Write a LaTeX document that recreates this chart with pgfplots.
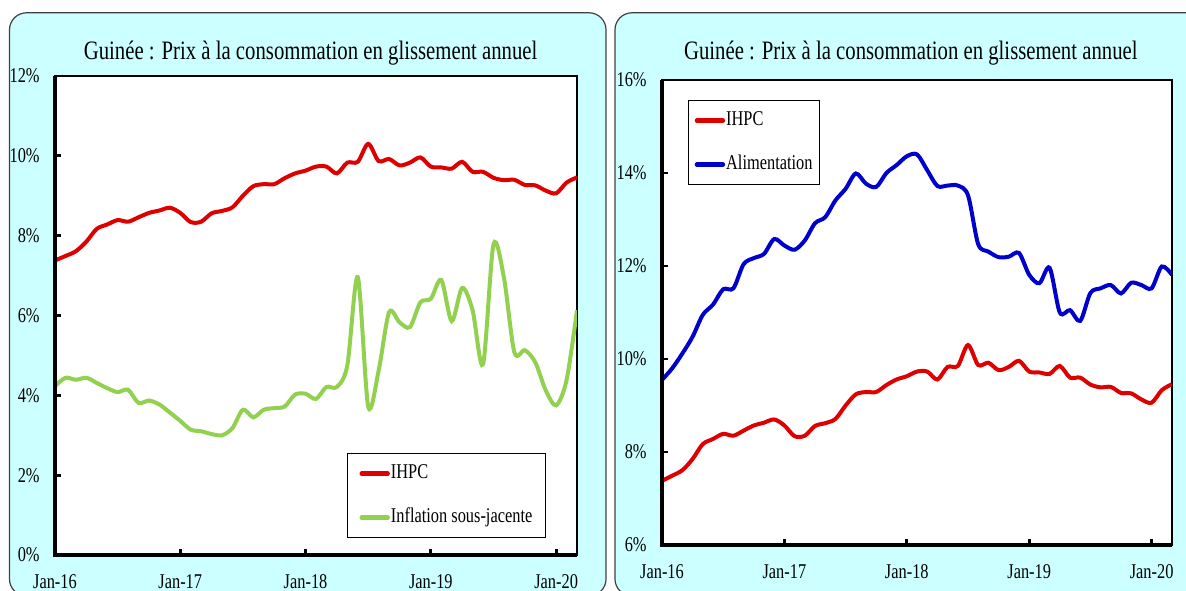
\documentclass[border=0pt]{standalone}
\usepackage{fontspec}
\setmainfont{Liberation Serif}[FakeStretch=0.78]
\usepackage{pgfplots}
\pgfplotsset{compat=1.18}
\usepackage{pgfplotstable}
\definecolor{panelbg}{RGB}{204,255,255}
\definecolor{ihpc}{RGB}{222,0,0}
\definecolor{sousj}{RGB}{146,208,80}
\definecolor{alim}{RGB}{0,0,204}

\pgfplotstableread{
m ihpc sj alim
0 7.38 4.23 9.55
1 7.49 4.44 9.80
2 7.61 4.39 10.12
3 7.85 4.44 10.48
4 8.17 4.31 10.95
5 8.28 4.18 11.17
6 8.39 4.08 11.50
7 8.35 4.14 11.52
8 8.46 3.81 12.04
9 8.57 3.87 12.17
10 8.63 3.77 12.26
11 8.70 3.57 12.58
12 8.57 3.36 12.44
13 8.34 3.14 12.35
14 8.35 3.10 12.55
15 8.56 3.03 12.92
16 8.62 3.00 13.05
17 8.71 3.18 13.41
18 9.00 3.64 13.66
19 9.24 3.45 13.99
20 9.29 3.64 13.77
21 9.29 3.68 13.70
22 9.44 3.72 14.00
23 9.56 4.02 14.17
24 9.63 4.04 14.36
25 9.73 3.91 14.40
26 9.73 4.21 14.06
27 9.56 4.21 13.72
28 9.83 4.75 13.73
29 9.85 6.96 13.73
30 10.30 3.72 13.52
31 9.87 4.62 12.47
32 9.92 6.08 12.31
33 9.76 5.83 12.19
34 9.83 5.71 12.20
35 9.96 6.33 12.28
36 9.73 6.42 11.81
37 9.71 6.89 11.63
38 9.68 5.86 11.96
39 9.85 6.69 11.00
40 9.60 6.13 11.05
41 9.60 4.78 10.82
42 9.45 7.78 11.42
43 9.39 6.95 11.52
44 9.40 5.08 11.59
45 9.27 5.13 11.41
46 9.26 4.83 11.64
47 9.13 4.13 11.59
48 9.06 3.75 11.52
49 9.33 4.38 11.99
50 9.46 6.13 11.81
}\data

\pgfplotsset{
  panel/.style={
    scale only axis, anchor=south west,
    xmin=0, xmax=50,
    xtick={0,12,24,36,48},
    xticklabels={Jan-16,Jan-17,Jan-18,Jan-19,Jan-20},
    tick pos=left, tick align=inside,
    major tick length=3pt,
    tick style={black, line width=1.4pt},
    axis line style={line width=0.6pt},
    axis background/.style={fill=white},
    ticklabel style={font=\fontsize{10.5}{12}\selectfont},
    yticklabel style={anchor=east, inner sep=0pt, xshift=-7.5pt},
    xticklabel style={anchor=north, inner sep=0pt, yshift=-9.8pt},
    /pgf/number format/assume math mode=true,
    legend cell align=left,
    legend image code/.code={\draw[##1, line width=2.2pt, line cap=round] (0pt,0pt) -- (13pt,0pt);},
  },
}

\begin{document}
\begin{tikzpicture}
\useasboundingbox (0,0) rectangle (593pt,295pt);
\fill[white] (0,0) rectangle (593pt,295pt);
\clip (0,0) rectangle (593pt,295pt);

% panels
\filldraw[fill=panelbg, draw=black!75, line width=0.6pt, rounded corners=8.5pt]
  (4.75pt,-3pt) rectangle (303pt,288.6pt);
\filldraw[fill=panelbg, draw=black!75, line width=0.6pt, rounded corners=8.5pt]
  (307.5pt,-3pt) rectangle (605pt,288.6pt);

% titles
\node[anchor=base, inner sep=0pt, font=\fontsize{13.3}{15}\selectfont] at (155.3pt,265.35pt)
  {Guinée : Prix à la consommation en glissement annuel};
\node[anchor=base, inner sep=0pt, font=\fontsize{13.3}{15}\selectfont] at (455.4pt,265.35pt)
  {Guinée : Prix à la consommation en glissement annuel};

% left axis
\begin{axis}[panel, name=L,
  at={(27.5pt,17.5pt)}, width=261pt, height=239.5pt,
  ymin=0, ymax=12, ytick={0,2,4,6,8,10,12},
  yticklabels={0\%,2\%,4\%,6\%,8\%,10\%,12\%},
  legend style={at={(0.559,0.213)}, anchor=north west, draw=black, line width=0.7pt,
    fill=white, inner xsep=6pt, inner ysep=4.5pt, row sep=11pt,
    font=\fontsize{10.5}{12}\selectfont,
    nodes={inner xsep=0.5pt, inner ysep=1pt, text height=7pt, text depth=2pt}},
]
\addplot[ihpc, line width=2pt, smooth] table[x=m, y=ihpc]{\data};
\addlegendentry{IHPC}
\addplot[sousj, line width=2pt, smooth] table[x=m, y=sj]{\data};
\addlegendentry{Inflation sous-jacente}
\end{axis}
\draw[black, line width=1.6pt] (L.north west) -- (L.south west) -- (L.south east);

% right axis
\begin{axis}[panel, name=R,
  at={(331pt,22.5pt)}, width=255pt, height=232.5pt,
  ymin=6, ymax=16, ytick={6,8,10,12,14,16},
  yticklabels={6\%,8\%,10\%,12\%,14\%,16\%},
  legend style={at={(0.051,0.957)}, anchor=north west, draw=black, line width=0.7pt,
    fill=white, inner xsep=3pt, inner ysep=4.5pt, row sep=11pt,
    font=\fontsize{10.5}{12}\selectfont,
    nodes={inner xsep=0.5pt, inner ysep=1pt, text height=7pt, text depth=2pt}},
]
\addplot[ihpc, line width=2pt, smooth] table[x=m, y=ihpc]{\data};
\addlegendentry{IHPC}
\addplot[alim, line width=2pt, smooth] table[x=m, y=alim]{\data};
\addlegendentry{Alimentation}
\end{axis}
\draw[black, line width=1.6pt] (R.north west) -- (R.south west) -- (R.south east);
\end{tikzpicture}
\end{document}
